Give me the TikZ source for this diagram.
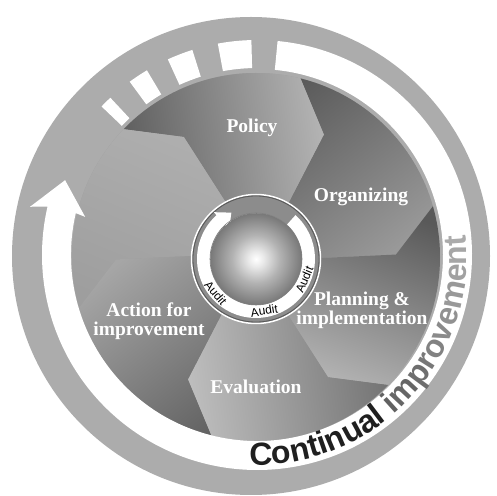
\documentclass[tikz,border=0pt]{standalone}
\usepackage{fontspec}
\setmainfont{Liberation Serif}
\newfontfamily\arialf{Liberation Sans}
\usetikzlibrary{decorations.text}
\definecolor{ringgray}{RGB}{172,172,172}
\pgfdeclareradialshading{sphere}{\pgfpoint{0bp}{0bp}}{color(0bp)=(white); color(4bp)=(white!92!black); color(13bp)=(white!70!black); color(25bp)=(white!47!black)}
\newcommand\cifont{\arialf\bfseries\fontsize{32}{32}\selectfont}
\tikzset{
  lab/.style={text=white, font=\fontsize{19.5}{19}\selectfont\bfseries, align=center, inner sep=0pt},
  audit/.style={text=black, font=\arialf\fontsize{12}{12}\selectfont, inner sep=0pt},
  bandfill/.style={fill=white}
}
\begin{document}
\begin{tikzpicture}[x=1pt,y=1pt]
\useasboundingbox (0,0) rectangle (496,496);
\fill[white] (0,0) rectangle (496,496);
% outer grey disc
\fill[ringgray] (251,240) coordinate (outerc) circle[radius=239];
% pinwheel
\begin{scope}[shift={(256,239)}]
  \coordinate (pinc) at (0,0);
  \clip (0,0) circle[radius=184];
  \fill[white!62!black] (0,0) circle[radius=184];
  \foreach \t/\lt/\dk [evaluate=\t as \sa using \t+38] in {0/60/35, 60/70/35, 120/69/62, 180/65/38, 240/74/43, 300/73/35} {
    \shade[top color=white!\dk!black, bottom color=white!\lt!black, shading angle=\sa]
      (0,0) -- ({\t-1}:63) -- ({\t+1}:140) -- ({\t+16}:184) -- ({\t+16}:200) -- ({\t+36}:200)
      -- ({\t+56}:200) -- ({\t+76}:200) -- ({\t+76}:184) -- ({\t+61}:140) -- ({\t+59}:63) -- cycle;
  }
\end{scope}
% white band arrow with dashes
\begin{scope}[shift={(257,241)}]
  \coordinate (bandc) at (0,0);
  \fill[bandfill] (84.5:215) arc[start angle=84.5, end angle=-193, radius=215]
    -- (168:232) -- (158.7:206) -- (167.5:176) -- (-193:186)
    arc[start angle=-193, end angle=84.5, radius=186] -- cycle;
  \foreach \a/\b in {133/136.3, 120.8/126.3, 107.5/114.5, 91.5/100.5}
    \fill[bandfill] (\a:215) arc[start angle=\a, end angle=\b, radius=215]
      -- (\b:187) arc[start angle=\b, end angle=\a, radius=187] -- cycle;
  \path[decorate, decoration={text along path, text align=left,
    text={|\cifont\color{black!88}|Continual |\cifont\color{black!62}|i|\cifont\color{black!60}|m|\cifont\color{black!57}|p|\cifont\color{black!53}|r|\cifont\color{black!49}|o|\cifont\color{black!46}|v|\cifont\color{black!43}|e|\cifont\color{black!40}|m|\cifont\color{black!37}|e|\cifont\color{black!35}|n|\cifont\color{black!33}|t}}]
    (268:210) arc[start angle=268, end angle=385, radius=210];
\end{scope}
% hub
\begin{scope}[shift={(256,237)}]
  \coordinate (hubc) at (0,0);
  \draw[white, line width=1.5pt] (0,0) circle[radius=64.5];
  \fill[white!55!black] (0,0) circle[radius=63.5];
  \draw[black!65, line width=0.8pt] (0,0) circle[radius=63];
  \fill[white] (48:59) arc[start angle=48, end angle=-228, radius=59]
    -- (132:63) -- (118:52.5) -- (132:40) -- (-228:46)
    arc[start angle=-228, end angle=48, radius=46] -- cycle;
  \shade[shading=sphere] (0,0) circle[radius=46];
  \draw[black!50, line width=0.6pt] (0,0) circle[radius=46];
  \foreach \a in {220,279,337}
    \node[audit, rotate=\a+90] (audit\a) at (\a:52.5) {Audit};
\end{scope}
% labels
\node[lab] (policy) at (252,368) {Policy};
\node[lab] (org) at (361,299) {Organizing};
\node[lab] (plan) at (362,186) {Planning \&\\implementation};
\node[lab] (eval) at (256,109) {Evaluation};
\node[lab] (act) at (149,175) {Action for\\improvement};
\end{tikzpicture}
\end{document}
